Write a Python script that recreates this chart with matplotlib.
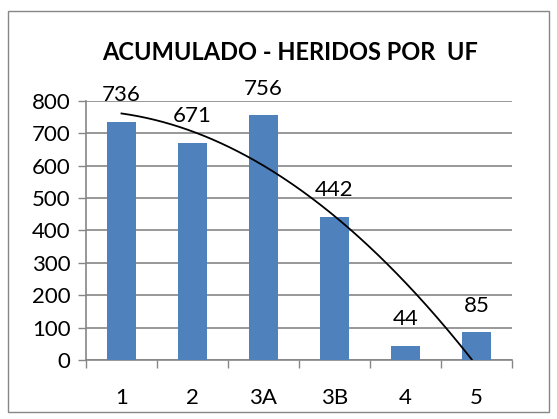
import numpy as np
import matplotlib
matplotlib.use("Agg")
import matplotlib.pyplot as plt
from matplotlib.patches import Rectangle

categories = ["1", "2", "3A", "3B", "4", "5"]
heridos = [736, 671, 756, 442, 44, 85]

plt.rcParams["font.family"] = ["Lato", "DejaVu Sans"]

fig = plt.figure(figsize=(5.57, 4.19), dpi=100)
ax = fig.add_axes([86 / 557, 1 - 360 / 419, (512 - 86) / 557, (360 - 101) / 419])

x = np.arange(1, len(categories) + 1)
ax.bar(x, heridos, width=0.4, color="#4F81BD", zorder=3)
for xi, v in zip(x, heridos):
    ax.annotate(f"{v}", (xi, v), xytext=(0, 12), textcoords="offset points",
                ha="center", va="bottom", fontsize=16, zorder=4)

# second-order polynomial trendline, clipped at zero like the spreadsheet one
coef = np.polyfit(x, heridos, 2)
xs = np.linspace(1, len(categories), 300)
ys = np.polyval(coef, xs)
keep = ys >= 0
ax.plot(xs[keep], ys[keep], color="black", lw=1.3, zorder=5)

ax.set_xlim(0.5, len(categories) + 0.5)
ax.set_ylim(0, 800)
ax.set_yticks(range(0, 801, 100))
ax.set_xticks(x)
ax.set_xticklabels(categories)
ax.set_xticks(np.arange(0.5, len(categories) + 1, 1), minor=True)
ax.tick_params(axis="x", which="major", length=0, pad=20, labelsize=16)
ax.tick_params(axis="x", which="minor", length=6, color="#868686", width=1)
ax.tick_params(axis="y", length=6, color="#868686", width=1, labelsize=16, pad=5)
ax.yaxis.grid(True, color="#868686", lw=1.2, zorder=0)
for side in ["top", "right"]:
    ax.spines[side].set_visible(False)
for side in ["left", "bottom"]:
    ax.spines[side].set_color("#868686")
    ax.spines[side].set_linewidth(1.2)

fig.text(290 / 557, 1 - 52 / 419, "ACUMULADO - HERIDOS POR  UF", ha="center", va="center",
         fontsize=17, fontweight="bold")

fig.patches.append(Rectangle((8 / 557, 1 - 412 / 419), (549 - 8) / 557, (412 - 11) / 419,
                             transform=fig.transFigure, fill=False, edgecolor="#868686", lw=1))

fig.savefig("out.png", dpi=100)
